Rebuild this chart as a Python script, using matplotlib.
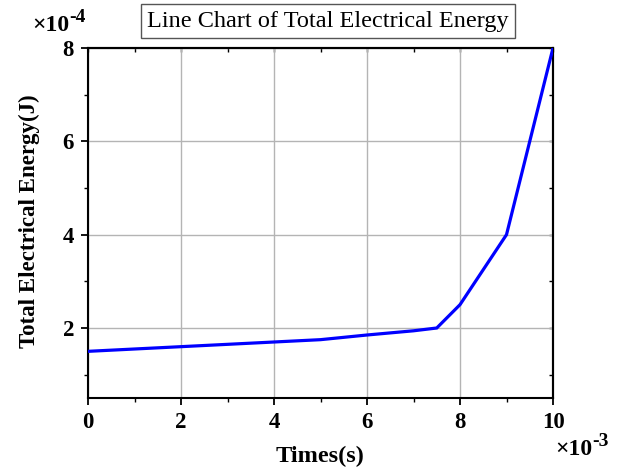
import matplotlib
matplotlib.use("Agg")
import matplotlib.pyplot as plt
from matplotlib.ticker import MultipleLocator

# Data (x in units of 1e-3 s, y in units of 1e-4 J)
times = [0, 2, 4, 5, 6, 7, 7.5, 8, 9, 10]
energy = [1.5, 1.6, 1.7, 1.75, 1.85, 1.94, 2.0, 2.5, 4.0, 8.0]
x_ticks = [0, 2, 4, 6, 8, 10]
y_ticks = [2, 4, 6, 8]
title = "Line Chart of Total Electrical Energy"
xlabel = "Times(s)"
ylabel = "Total Electrical Energy(J)"

plt.rcParams['font.family'] = ['Liberation Serif', 'DejaVu Serif']
plt.rcParams['font.weight'] = 'bold'

fig = plt.figure(figsize=(6.29, 4.72), dpi=100)
ax = fig.add_axes([88/629, 1-398/472, (553-88)/629, (398-48)/472])

ax.plot(times, energy, color='#0000ff', lw=2.3, solid_joinstyle='miter', zorder=3)

ax.set_xlim(0, 10)
ax.set_ylim(0.5, 8)
ax.set_xticks(x_ticks)
ax.set_yticks(y_ticks)
ax.xaxis.set_minor_locator(MultipleLocator(1))
ax.yaxis.set_minor_locator(MultipleLocator(1))
ax.grid(True, which='major', color='#b4b4b4', lw=1.0)
ax.set_axisbelow(True)

ax.tick_params(which='major', direction='out', length=5, width=1.3, labelsize=16.5,
               bottom=True, left=True, top=False, right=False)
ax.tick_params(which='minor', direction='out', length=3, width=1.0,
               bottom=True, left=True, top=False, right=False)
ax.tick_params(axis='x', pad=5)
ax.tick_params(axis='y', pad=5)

# inward minor ticks on top/right
secx = ax.secondary_xaxis('top')
secx.set_xticks([])
secx.xaxis.set_minor_locator(MultipleLocator(1))
secx.tick_params(which='minor', direction='in', length=3, width=1.0)
secy = ax.secondary_yaxis('right')
secy.set_yticks([])
secy.yaxis.set_minor_locator(MultipleLocator(1))
secy.tick_params(which='minor', direction='in', length=3, width=1.0)
for s in (secx, secy):
    for sp in s.spines.values():
        sp.set_linewidth(1.5)

for sp in ax.spines.values():
    sp.set_linewidth(1.5)
    sp.set_color('black')

ax.set_xlabel(xlabel, fontsize=17.5, fontweight='bold', labelpad=9)
ax.set_ylabel(ylabel, fontsize=16.5, fontweight='bold')
ax.yaxis.set_label_coords((40 - 88) / 465, (398 - 221) / 350)

fig.text(328/629, 1-21/472, title, fontsize=17.5, fontweight='normal',
         ha='center', va='center',
         bbox=dict(boxstyle='square,pad=0.25', fc='white', ec='#555555', lw=1.0))

def sci_label(x_px, base_px, exp):
    t = fig.text(x_px/629, 1-base_px/472, '×10', fontsize=17, fontweight='bold',
                 ha='left', va='baseline')
    fig.canvas.draw()
    bb = t.get_window_extent()
    fig.text(bb.x1/629 + 0.5/629, 1-(base_px-9)/472, exp, fontsize=14,
             fontweight='bold', ha='left', va='baseline')

sci_label(32, 31, '-4')
sci_label(555, 455, '-3')

fig.savefig('out.png', dpi=100)
